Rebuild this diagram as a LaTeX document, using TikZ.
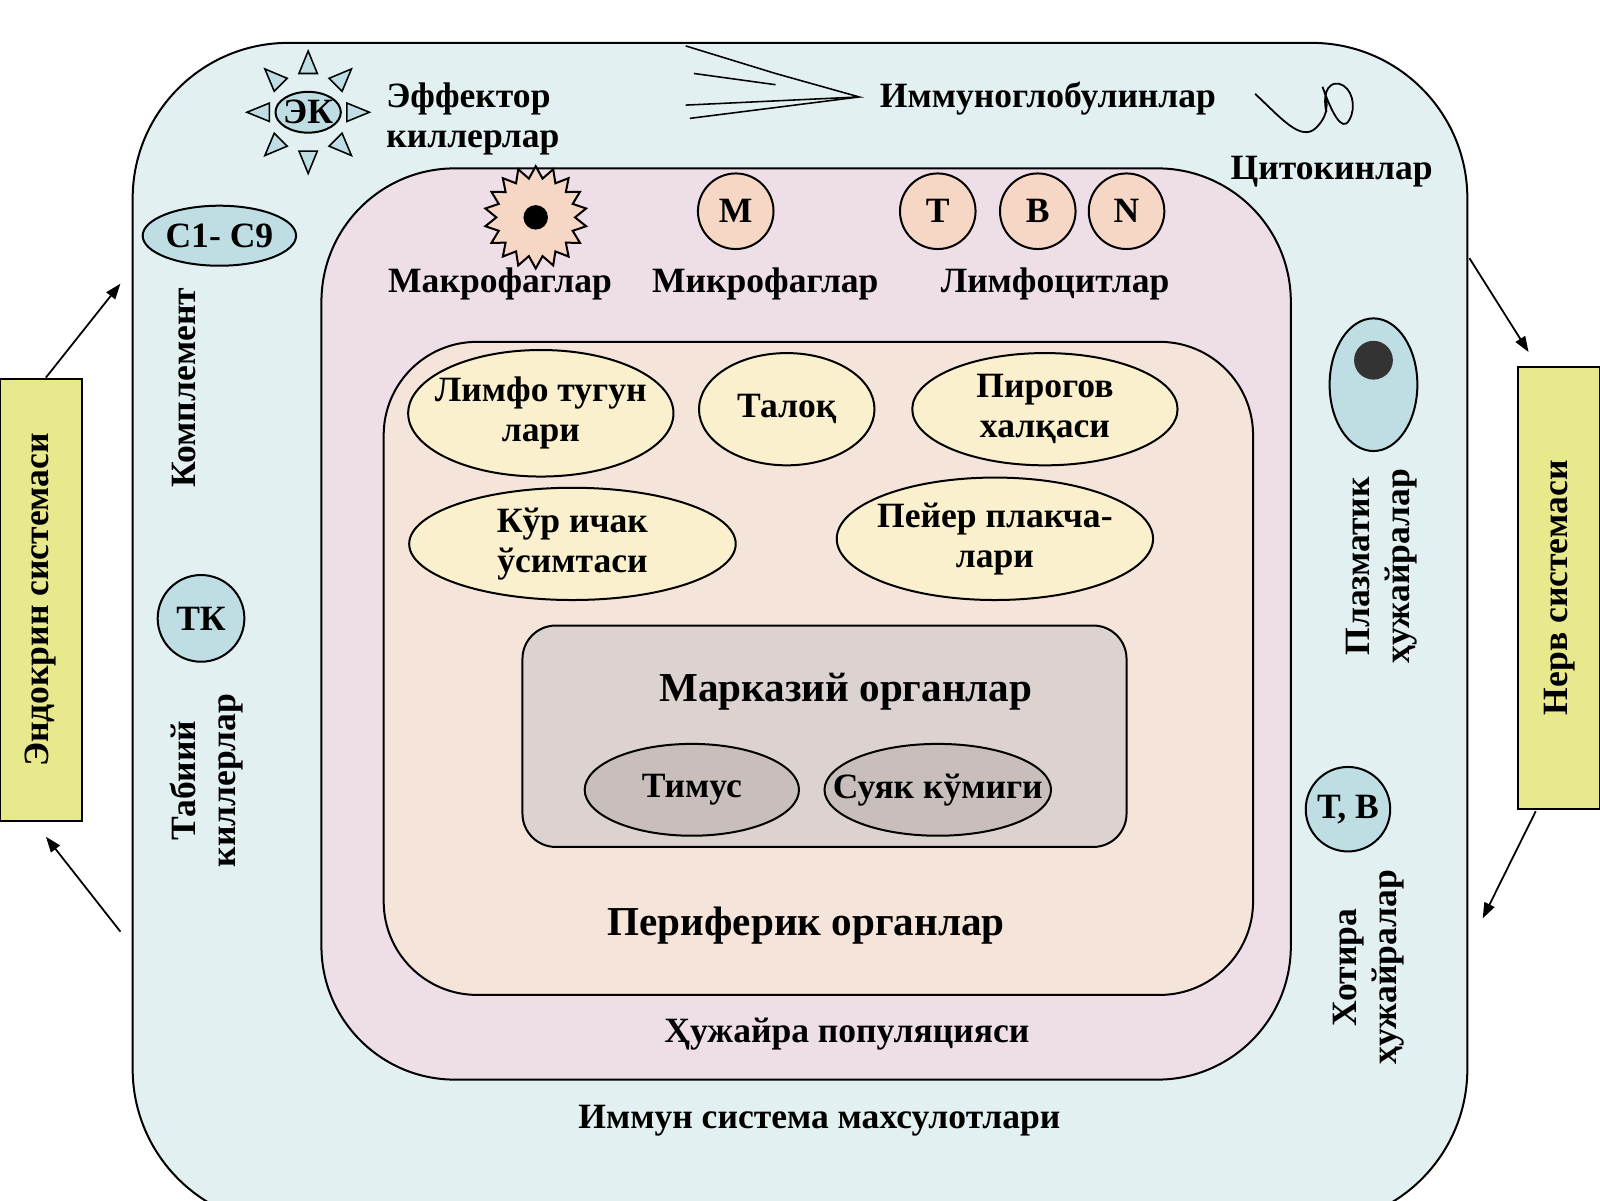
\documentclass[tikz,border=0pt]{standalone}
\usepackage{fontspec}
\setmainfont{Liberation Serif}
\usetikzlibrary{arrows.meta,positioning,shapes.geometric}
\definecolor{outerfill}{RGB}{226,240,242}
\definecolor{pinkfill}{RGB}{238,222,232}
\definecolor{peachfill}{RGB}{245,228,218}
\definecolor{greyfill}{RGB}{220,210,208}
\definecolor{ovalfill}{RGB}{250,240,205}
\definecolor{cellfill}{RGB}{246,214,196}
\definecolor{cyanfill}{RGB}{190,222,228}
\definecolor{boxfill}{RGB}{232,232,140}
\begin{document}
\begin{tikzpicture}[x=0.459pt,y=-0.459pt,line width=0.9pt,
		lbl/.style={font=\fontsize{16}{18}\selectfont\bfseries,align=center,inner sep=0.75pt},
		big/.style={font=\fontsize{18.5}{20}\selectfont\bfseries,inner sep=0.75pt},
		cell/.style={circle,draw,fill=cellfill,minimum size=34pt,inner sep=0pt,font=\fontsize{16}{18}\selectfont\bfseries},
		arr/.style={-{Triangle[length=7pt,width=5pt]},line width=0.8pt}]
	\useasboundingbox (0,0) rectangle (1568,1176);
	
	%Rounded Rect outer
	\draw[fill=outerfill,rounded corners=70pt] (130,42) rectangle (1438,1200);
	%Rounded Rect cell population
	\draw[fill=pinkfill,rounded corners=60pt] (315,165) rectangle (1265,1058);
	%Rounded Rect peripheral
	\draw[fill=peachfill,rounded corners=42pt] (376,335) rectangle (1228,975);
	%Rounded Rect central
	\draw[fill=greyfill,rounded corners=15pt] (512,613) rectangle (1104,830);
	
	%Ovals
	\draw[fill=ovalfill] (530,405) ellipse [x radius=130,y radius=62];
	\draw[fill=ovalfill] (771,401) ellipse [x radius=86,y radius=55];
	\draw[fill=ovalfill] (1024,401) ellipse [x radius=130,y radius=55];
	\draw[fill=ovalfill] (561,533) ellipse [x radius=160,y radius=55];
	\draw[fill=ovalfill] (975,528) ellipse [x radius=155,y radius=60];
	\draw[fill=greyfill!85!black!60!greyfill] (678,774) ellipse [x radius=105,y radius=45];
	\draw[fill=greyfill!85!black!60!greyfill] (919,774) ellipse [x radius=111,y radius=45];
	
	% Text Node
	\node[lbl] (lymph) at (530,405) {Лимфо тугун\\лари};
	\node[lbl] (spleen) at (771,401) {Талоқ};
	\node[lbl] (pirogov) at (1024,401) {Пирогов\\халқаси};
	\node[lbl] (appendix) at (561,533) {Кўр ичак\\ўсимтаси};
	\node[lbl] (peyer) at (975,528) {Пейер плакча-\\лари};
	\node[lbl] (thymus) at (678,774) {Тимус};
	\node[lbl] (marrow) at (919,774) {Суяк кўмиги};
	\node[big] (central) at (829,678) {Марказий органлар};
	\node[big] (periph) at (790,907) {Периферик органлар};
	\node[lbl] (population) at (830,1013) {Ҳужайра популяцияси};
	\node[lbl] (products) at (803,1098) {Иммун система махсулотлари};
	
	%Cells
	\node[star,star points=18,star point ratio=1.3,minimum size=46pt,draw,fill=cellfill] (macro) at (525,213) {};
	\fill (macro.center) circle (12);
	\node[cell] (micro) at (721,207) {М};
	\node[cell] (tcell) at (919,207) {Т};
	\node[cell] (bcell) at (1017,207) {В};
	\node[cell] (ncell) at (1104,207) {N};
	\node[lbl] (macrolbl) at (490,278) {Макрофаглар};
	\node[lbl] (microlbl) at (750,278) {Микрофаглар};
	\node[lbl] (lympholbl) at (1034,278) {Лимфоцитлар};
	
	%Effector killers
	\foreach \a in {0,45,...,315}
		\draw[fill=cyanfill,line width=0.7pt,shift={(302,110)},rotate=\a] (38,-9) -- (60,0) -- (38,9) -- cycle;
	\draw[fill=cyanfill] (302,110) ellipse [x radius=32,y radius=20];
	\node[lbl] (ek) at (302,110) {ЭК};
	\node[lbl,anchor=west,align=left] (eklbl) at (376,117) {Эффектор\\киллерлар};
	
	%Immunoglobulins
	\coordinate (igtip) at (842,95);
	\draw[line width=0.7pt] (672,45) -- (760,72) -- (igtip) -- (672,103);
	\draw[line width=0.7pt] (igtip) -- (676,116);
	\draw[line width=0.7pt] (680,72) -- (760,83);
	\node[lbl] (iglbl) at (1027,97) {Иммуноглобулинлар};
	
	%Cytokines
	\draw[line width=0.8pt] (1230,92) .. controls (1255,115) and (1275,140) .. (1290,125) .. controls (1305,110) and (1300,95) .. (1296,85) .. controls (1305,110) and (1315,130) .. (1322,118) .. controls (1330,105) and (1325,85) .. (1312,82) .. controls (1300,80) and (1296,95) .. (1300,110);
	\node[lbl] (cytolbl) at (1305,168) {Цитокинлар};
	
	%Complement, natural killers
	\node[ellipse,draw,fill=cyanfill,minimum width=69pt,minimum height=27pt,inner sep=0pt,font=\fontsize{16}{18}\selectfont\bfseries] (compl) at (215,231) {С1- С9};
	\node[lbl,rotate=90] (compllbl) at (180,380) {Комплемент};
	\node[circle,draw,fill=cyanfill,minimum size=39pt,inner sep=0pt,font=\fontsize{16}{18}\selectfont\bfseries] (tk) at (197,606) {ТК};
	\node[lbl,rotate=90] (tklbl) at (202,765) {Табиий\\киллерлар};
	
	%Plasma and memory cells
	\draw[fill=cyanfill] (1346,377) ellipse [x radius=43,y radius=65];
	\fill[black!80] (1346,353) circle (19);
	\coordinate (plasma) at (1346,377);
	\node[lbl,rotate=90] (plasmalbl) at (1354,555) {Плазматик\\ҳужайралар};
	\node[circle,draw,fill=cyanfill,minimum size=38pt,inner sep=0pt,font=\fontsize{16}{18}\selectfont\bfseries] (tb) at (1321,793) {Т, В};
	\node[lbl,rotate=90] (memlbl) at (1341,948) {Хотира\\ҳужайралар};
	
	%Side boxes
	\node[draw,fill=boxfill,minimum width=36.7pt,minimum height=198.7pt,inner sep=0pt] (endo) at (40,588) {};
	\node[lbl,rotate=90] at (endo.center) {Эндокрин системаси};
	\node[draw,fill=boxfill,minimum width=36.7pt,minimum height=198.7pt,inner sep=0pt] (nerve) at (1528,576) {};
	\node[lbl,rotate=90] at (nerve.center) {Нерв системаси};
	
	%Straight Lines
	\coordinate (endoT) at (45,370);
	\coordinate (endoB) at (45,820);
	\coordinate (nerveT) at (1498,345);
	\coordinate (nerveB) at (1505,795);
	\coordinate (outerL1) at (118,278);
	\coordinate (outerL2) at (118,913);
	\coordinate (outerR1) at (1440,253);
	\coordinate (outerR2) at (1453,900);
	\draw[arr] (endoT) -- (outerL1);
	\draw[arr] (outerL2) -- (endoB);
	\draw[arr] (outerR1) -- (nerveT);
	\draw[arr] (nerveB) -- (outerR2);
\end{tikzpicture}
\end{document}
